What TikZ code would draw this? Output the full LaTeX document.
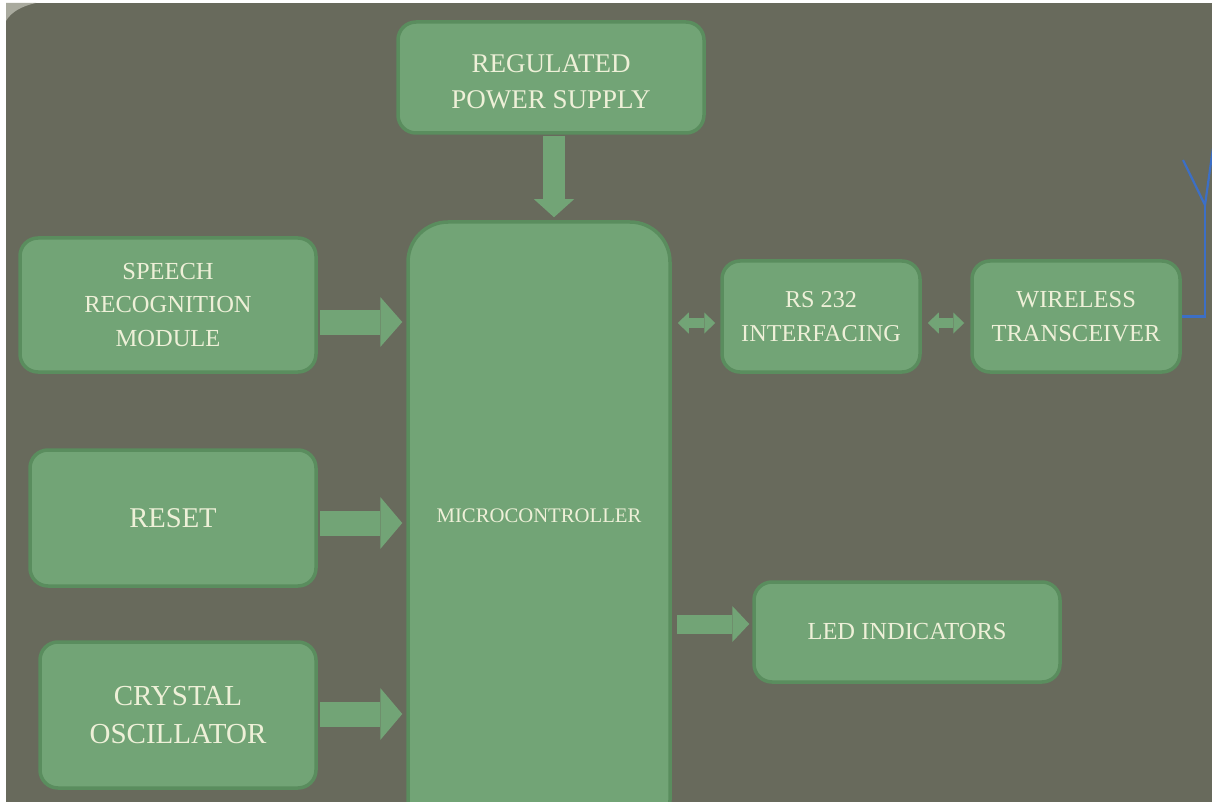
\documentclass[tikz,border=0pt]{standalone}
\usepackage{fontspec}
\setmainfont{Liberation Serif}
\usetikzlibrary{arrows.meta}
\definecolor{bg}{HTML}{686A5C}
\definecolor{boxfill}{HTML}{72A476}
\definecolor{boxborder}{HTML}{5A8D5E}
\definecolor{txt}{HTML}{EEF0D8}
\definecolor{antenna}{HTML}{3C6FC6}
\definecolor{corner}{HTML}{A9AA9E}
\begin{document}
\begin{tikzpicture}[x=1pt,y=-1pt,
  blockbox/.style={draw=boxborder, fill=boxfill, line width=3.5pt, rounded corners=18pt,
    inner sep=0pt, align=center, text=txt},
  fatarrow/.style={draw=boxfill, line width=#1},
  fatarrow/.default=25pt]
\useasboundingbox (0,0) rectangle (1212,802);
\fill[white] (0,0) rectangle (1212,802);
\begin{scope}
\clip (0,0) rectangle (1212,802);
\fill[bg] (6,3) rectangle (1212,802);
\fill[corner] (6,3) -- (36,3) .. controls (22,6) and (11,12) .. (6,21) -- cycle;

\node[blockbox, minimum width=306pt, minimum height=111pt,
  font=\fontsize{27}{36}\selectfont] (pwr) at (551,77.5) {\rule{0pt}{26pt}REGULATED\\POWER SUPPLY};
\node[blockbox, rounded corners=40pt, minimum width=262pt, minimum height=618pt,
  text height=14pt, text depth=32pt,
  font=\fontsize{20.7}{24}\selectfont] (mcu) at (539,531) {MICROCONTROLLER};
\node[blockbox, minimum width=296pt, minimum height=134pt,
  font=\fontsize{24.5}{33.5}\selectfont] (spe) at (168,305) {SPEECH\\RECOGNITION\\MODULE};
\node[blockbox, minimum width=286pt, minimum height=136pt,
  font=\fontsize{28.6}{36}\selectfont] (rst) at (173,518) {RESET};
\node[blockbox, minimum width=276pt, minimum height=146pt,
  font=\fontsize{29}{38}\selectfont] (cry) at (178,715) {CRYSTAL\\OSCILLATOR};
\node[blockbox, minimum width=198pt, minimum height=111pt,
  font=\fontsize{24.2}{34}\selectfont] (rs) at (821,316.5) {RS 232\\INTERFACING};
\node[blockbox, minimum width=208pt, minimum height=111pt,
  font=\fontsize{24.5}{34}\selectfont] (wir) at (1076,316.5) {WIRELESS\\TRANSCEIVER};
\node[blockbox, minimum width=306pt, minimum height=100pt,
  font=\fontsize{24.5}{30}\selectfont] (led) at (907,632) {LED INDICATORS};

% block arrows
\draw[fatarrow=22pt, -{Triangle[length=18pt,width=40pt,line width=0pt]},
  shorten <=1pt, shorten >=3pt] ([xshift=3pt]pwr.south) -- ([xshift=3pt]pwr.south |- mcu.north);
\draw[fatarrow=25pt, -{Triangle[length=22pt,width=50pt,line width=0pt]},
  shorten <=2pt, shorten >=4pt] (spe.east |- 0,322) -- (mcu.west |- 0,322);
\draw[fatarrow=25pt, -{Triangle[length=22pt,width=52pt,line width=0pt]},
  shorten <=2pt, shorten >=4pt] (rst.east |- 0,523) -- (mcu.west |- 0,523);
\draw[fatarrow=25pt, -{Triangle[length=22pt,width=52pt,line width=0pt]},
  shorten <=2pt, shorten >=4pt] (cry.east |- 0,714) -- (mcu.west |- 0,714);
\draw[fatarrow=19pt, -{Triangle[length=17pt,width=36pt,line width=0pt]},
  shorten <=5pt, shorten >=3pt] (mcu.east |- 0,624) -- (led.west |- 0,624);
\draw[fatarrow=10pt, {Triangle[length=11pt,width=21pt,line width=0pt]}-{Triangle[length=11pt,width=21pt,line width=0pt]},
  shorten <=6pt, shorten >=5pt] (mcu.east |- 0,323) -- (rs.west |- 0,323);
\draw[fatarrow=10pt, {Triangle[length=11pt,width=21pt,line width=0pt]}-{Triangle[length=11pt,width=21pt,line width=0pt]},
  shorten <=6pt, shorten >=6pt] (rs.east |- 0,323) -- (wir.west |- 0,323);

% antenna
\coordinate (antbase) at (1205,205);
\coordinate (antleft) at (1183,160);
\coordinate (antright) at (1213,148);
\draw[antenna, line width=2.2pt] (wir.east) -- (antbase |- wir.east) -- (antbase);
\draw[antenna, line width=2.2pt] (antleft) -- (antbase) -- (antright);
\end{scope}
\end{tikzpicture}
\end{document}
